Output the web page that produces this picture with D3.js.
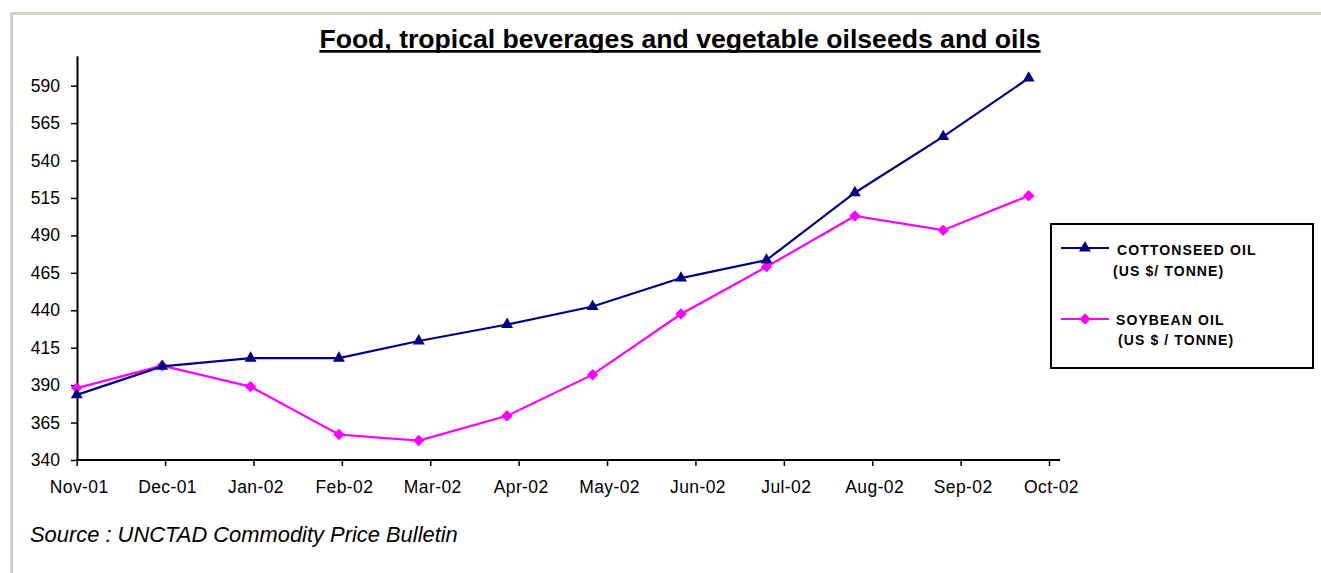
<!DOCTYPE html>
<html>
<head>
<meta charset="utf-8">
<script src="https://cdn.jsdelivr.net/npm/d3@7"></script>
<style>
  body { margin: 0; background: #fff; }
  svg { display: block; }
  text { font-family: Arial, "Liberation Sans", sans-serif; fill: #000; }
</style>
</head>
<body>
<svg id="chart" width="1321" height="573"></svg>
<script>
// ---- data ----
const monthLabels = ["Nov-01","Dec-01","Jan-02","Feb-02","Mar-02","Apr-02","May-02","Jun-02","Jul-02","Aug-02","Sep-02","Oct-02"];
const monthDates  = ["2001-11-01","2001-12-01","2002-01-01","2002-02-01","2002-03-01","2002-04-01","2002-05-01","2002-06-01","2002-07-01","2002-08-01","2002-09-01","2002-10-01"];
const cottonseedOil = [383.5, 402.5, 408, 408, 419.5, 430.5, 442.5, 461.5, 473.5, 518.5, 556, 595];
const soybeanOil    = [388, 403, 389, 357, 353, 369.5, 397, 437.5, 469, 503, 493.5, 516.5];
const yTickValues = [340, 365, 390, 415, 440, 465, 490, 515, 540, 565, 590];
const seriesNames = ["COTTONSEED OIL", "SOYBEAN OIL"];
const seriesUnits = ["(US $/ TONNE)", "(US $ / TONNE)"];
const titleText = "Food, tropical beverages and vegetable oilseeds and oils";
const sourceText = "Source : UNCTAD Commodity Price Bulletin";

// ---- setup ----
const svg = d3.select("#chart");
const parse = d3.timeParse("%Y-%m-%d");
const dates = monthDates.map(parse);

const plotLeft = 77, plotBottom = 460, plotTop = 55.7;
const x = d3.scaleTime().domain([dates[0], dates[dates.length - 1]]).range([76.7, 1028.7]);
const xTick = d3.scalePoint().domain(monthLabels).range([76.7, 1049]).padding(0);
const y = d3.scaleLinear().domain([340, 610]).range([plotBottom, plotTop]);

const frame = "#d4d0c8";
svg.append("line").attr("x1", 10).attr("x2", 1321).attr("y1", 13.5).attr("y2", 13.5)
  .attr("stroke", frame).attr("stroke-width", 3);
svg.append("line").attr("x1", 11.5).attr("x2", 11.5).attr("y1", 12).attr("y2", 573)
  .attr("stroke", frame).attr("stroke-width", 3);

// ---- title ----
const title = svg.append("text")
  .attr("x", 680).attr("y", 47.5)
  .attr("text-anchor", "middle")
  .style("font-size", "26.6px").style("font-weight", "bold")
  .text(titleText);
const tLen = title.node().getComputedTextLength();
svg.append("rect").attr("x", 680 - tLen / 2).attr("y", 50).attr("width", tLen).attr("height", 2.7).attr("fill", "#000");

// ---- axes ----
const yAxis = d3.axisLeft(y).tickValues(yTickValues).tickSize(6).tickSizeOuter(0).tickPadding(11).tickFormat(d3.format("d"));
const gy = svg.append("g").attr("transform", `translate(${plotLeft},0)`).call(yAxis);
gy.select(".domain").attr("stroke", "#000").attr("stroke-width", 2);
gy.selectAll(".tick line").attr("stroke", "#000").attr("stroke-width", 1.5);
gy.selectAll(".tick text").style("font-size", "17.5px").attr("fill", "#000").attr("font-family", null);

const xAxis = d3.axisBottom(xTick).tickSize(6).tickSizeOuter(0).tickPadding(14.6);
const gx = svg.append("g").attr("transform", `translate(0,${plotBottom})`).call(xAxis);
gx.select(".domain").remove();
gx.append("line").attr("x1", plotLeft - 1).attr("x2", 1060).attr("y1", 0).attr("y2", 0)
  .attr("stroke", "#000").attr("stroke-width", 2);
gx.selectAll(".tick line").attr("stroke", "#000").attr("stroke-width", 1.5);
gx.selectAll(".tick text").style("font-size", "17.5px").style("letter-spacing", "0.4px")
  .attr("fill", "#000").attr("font-family", null).attr("dx", 2);

// ---- series ----
const series = [
  { name: seriesNames[0], unit: seriesUnits[0], values: cottonseedOil, color: "#000080", marker: "tri" },
  { name: seriesNames[1], unit: seriesUnits[1], values: soybeanOil, color: "#ff00ff", marker: "dia" }
];
const triPath = d3.symbol(d3.symbolTriangle, 62)();
const diaPath = d3.symbol(d3.symbolSquare, 66)();
function marker(g, s, cx, cy) {
  if (s.marker === "tri") {
    g.append("path").attr("d", triPath).attr("transform", `translate(${cx},${cy})`).attr("fill", s.color);
  } else {
    g.append("path").attr("d", diaPath).attr("transform", `translate(${cx},${cy}) rotate(45)`).attr("fill", s.color);
  }
}
const line = d3.line().x((d, i) => x(dates[i])).y(d => y(d));
// draw soybean first, cottonseed on top
[series[1], series[0]].forEach(s => {
  const g = svg.append("g");
  g.append("path").datum(s.values).attr("d", line).attr("fill", "none")
    .attr("stroke", s.color).attr("stroke-width", 2.2);
  s.values.forEach((v, i) => marker(g, s, x(dates[i]), y(v)));
});

// ---- legend ----
const lg = svg.append("g");
lg.append("rect").attr("x", 1051).attr("y", 224).attr("width", 262).attr("height", 144)
  .attr("fill", "#fff").attr("stroke", "#000").attr("stroke-width", 2);
const legendRows = [
  { ly: 248, t1: [1117, 255], t2: [1113, 276] },
  { ly: 319, t1: [1116, 324.5], t2: [1118, 345] }
];
series.forEach((s, i) => {
  const r = legendRows[i];
  lg.append("line").attr("x1", 1061).attr("x2", 1109).attr("y1", r.ly).attr("y2", r.ly)
    .attr("stroke", s.color).attr("stroke-width", 2);
  marker(lg, s, 1085, r.ly);
  lg.append("text").attr("x", r.t1[0]).attr("y", r.t1[1])
    .style("font-size", "14px").style("font-weight", "bold").style("letter-spacing", "1.1px")
    .text(s.name);
  lg.append("text").attr("x", r.t2[0]).attr("y", r.t2[1])
    .style("font-size", "14px").style("font-weight", "bold").style("letter-spacing", "1.1px")
    .text(s.unit);
});

// ---- source ----
svg.append("text").attr("x", 30).attr("y", 541.7)
  .style("font-size", "21.9px").style("font-style", "italic")
  .text(sourceText);
</script>
</body>
</html>
